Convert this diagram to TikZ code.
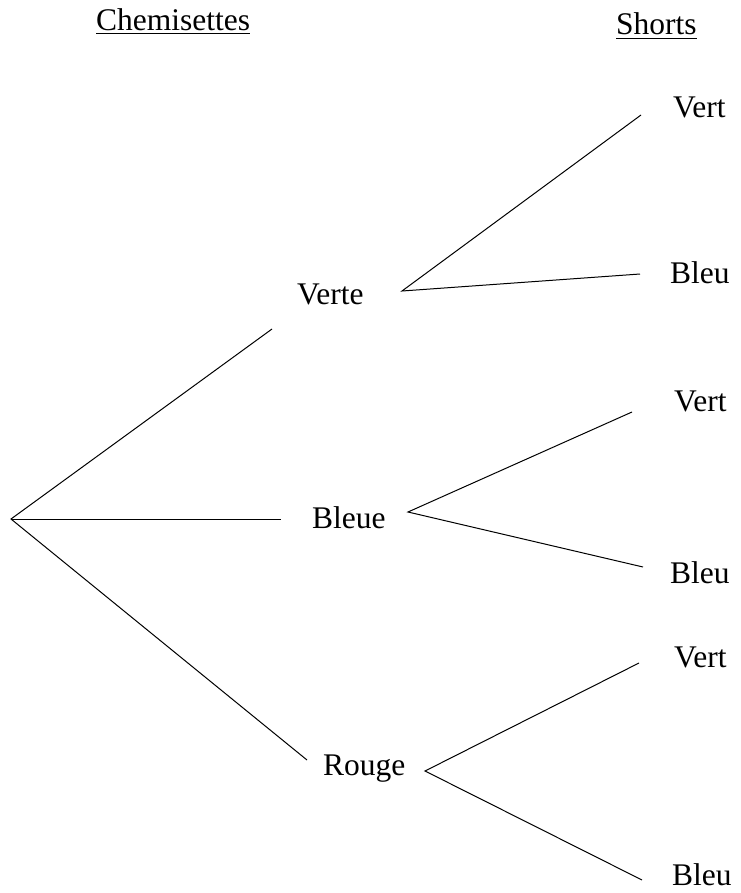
\documentclass[tikz,border=0pt]{standalone}
\usepackage{fontspec}
\setmainfont{Liberation Serif}
\begin{document}
\begin{tikzpicture}[x=1pt,y=-1pt,
    lbl/.style={inner sep=0pt,anchor=base west,font=\fontsize{31.5}{36}\selectfont},
    branch/.style={line width=1pt},
    uline/.style={line width=1.4pt}]
  \useasboundingbox (0,0) rectangle (740,893);

  % column headings
  \node[lbl] (chem) at (96,31) {Chemisettes};
  \node[lbl] (shorts) at (616,35) {Shorts};
  \draw[uline] ([yshift=-2.5]chem.base west) -- ([yshift=-2.5]chem.base east);
  \draw[uline] ([yshift=-3.5]shorts.base west) -- ([yshift=-3.5]shorts.base east);

  % first level: shirts
  \node[lbl] (verte) at (297,304) {Verte};
  \node[lbl] (bleue) at (312,528) {Bleue};
  \node[lbl] (rouge) at (323,775) {Rouge};

  % second level: shorts
  \node[lbl] (v1) at (673,118) {Vert};
  \node[lbl] (b1) at (670,283) {Bleu};
  \node[lbl] (v2) at (674,411) {Vert};
  \node[lbl] (b2) at (670,583) {Bleu};
  \node[lbl] (v3) at (674,667) {Vert};
  \node[lbl] (b3) at (672,885) {Bleu};

  % branch end points
  \coordinate (root) at (11,519);
  \coordinate (verteIn) at (272,329);
  \coordinate (bleueIn) at (281,519);
  \coordinate (rougeIn) at (307,760);
  \coordinate (verteOut) at (402,291);
  \coordinate (bleueOut) at (408,512);
  \coordinate (rougeOut) at (425,771);
  \coordinate (v1In) at (641,115);
  \coordinate (b1In) at (640,274);
  \coordinate (v2In) at (632,412);
  \coordinate (b2In) at (643,567);
  \coordinate (v3In) at (639,663);
  \coordinate (b3In) at (642,880);

  % branches
  \draw[branch] (verteIn) -- (root) -- (rougeIn);
  \draw[branch] (root) -- (bleueIn);
  \draw[branch] (v1In) -- (verteOut) -- (b1In);
  \draw[branch] (v2In) -- (bleueOut) -- (b2In);
  \draw[branch] (v3In) -- (rougeOut) -- (b3In);
\end{tikzpicture}
\end{document}
